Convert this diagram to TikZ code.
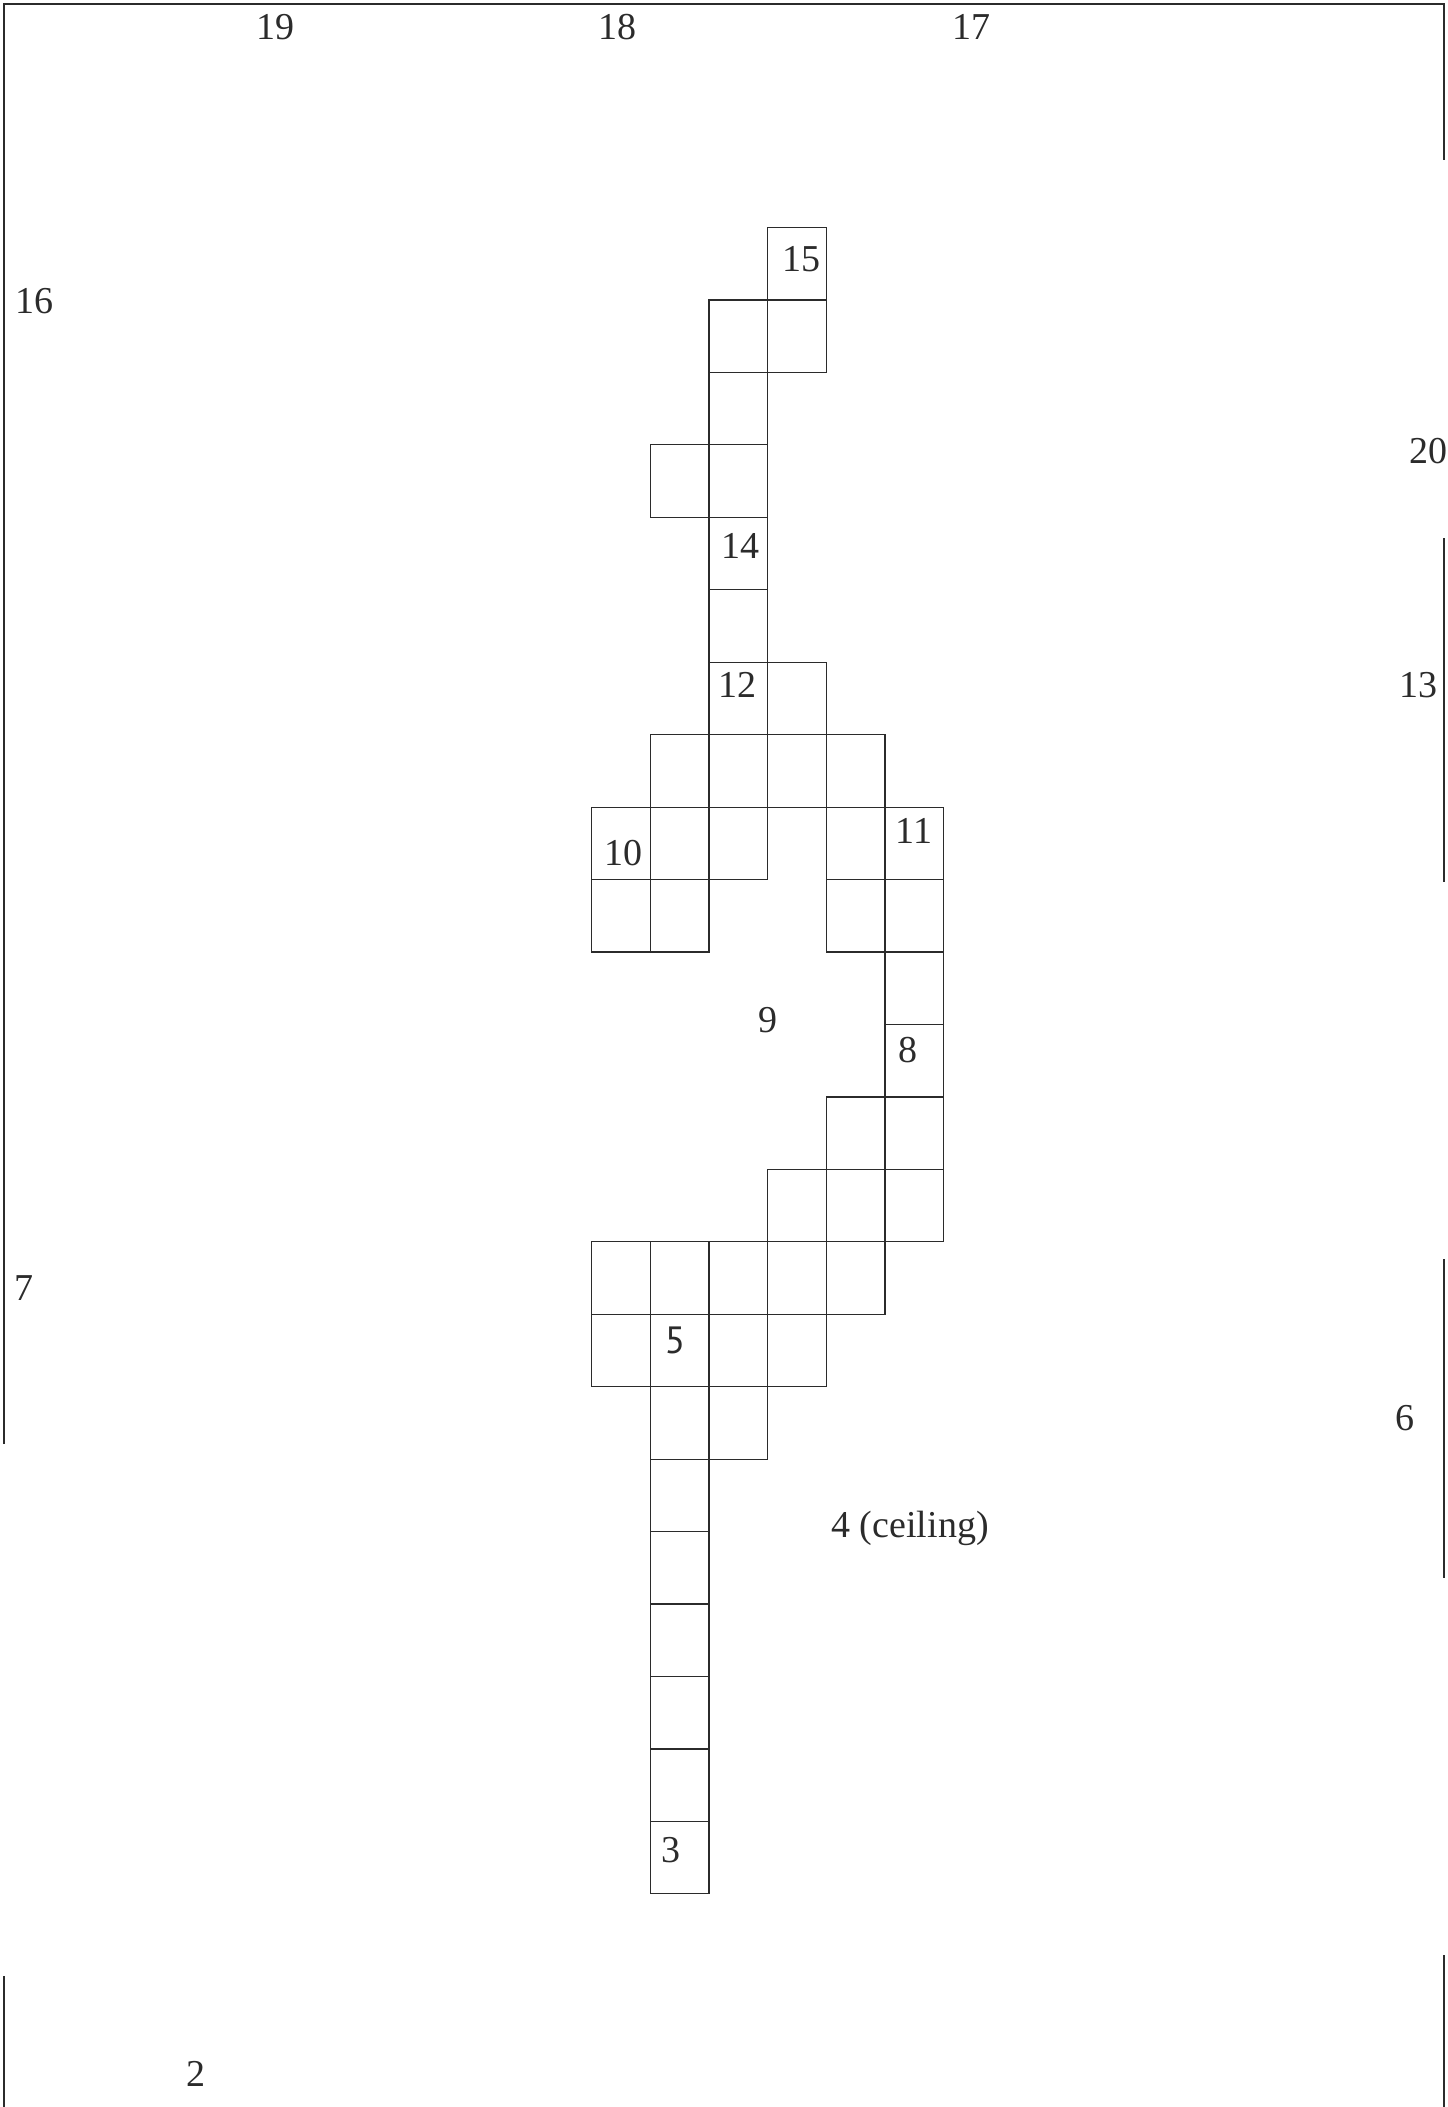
\documentclass[tikz,border=0pt]{standalone}
\usepackage{fontspec}
\setmainfont{Liberation Serif}
\newfontfamily\sansnum{PT Sans}
\definecolor{ink}{HTML}{2B2B2B}
\begin{document}
\begin{tikzpicture}[x=0.5pt,y=-0.5pt,
  cellbox/.style={draw=ink,line width=0.6pt,rectangle,inner sep=0pt,
    minimum width=29.33pt,minimum height=36.22pt},
  lbl/.style={inner sep=0pt,anchor=base,text=ink,font=\fontsize{19}{22}\selectfont},
  wall/.style={draw=ink,line width=1.1pt}]
\useasboundingbox (0,0) rectangle (1447,2107);
% grid cells (column, row)
\foreach \c/\r in {3/0, 2/1,3/1, 2/2, 1/3,2/3, 2/4, 2/5, 2/6,3/6,
  1/7,2/7,3/7,4/7, 0/8,1/8,2/8,4/8,5/8, 0/9,1/9,4/9,5/9, 5/10, 5/11,
  4/12,5/12, 3/13,4/13,5/13, 0/14,1/14,2/14,3/14,4/14,
  0/15,1/15,2/15,3/15, 1/16,2/16, 1/17,1/18,1/19,1/20,1/21,1/22}{
  \node[cellbox] (cell-\c-\r) at ({591.7+58.67*(\c+0.5)},{227.5+72.45*(\r+0.5)}) {};
}
% walls
\coordinate (wA) at (4,1444);
\coordinate (wB) at (4,4);
\coordinate (wC) at (1444,4);
\coordinate (wD) at (1444,160);
\draw[wall] (wA) -- (wB) -- (wC) -- (wD);
\coordinate (wE) at (1444,538);
\coordinate (wF) at (1444,882);
\draw[wall] (wE) -- (wF);
\coordinate (wG) at (1444,1259);
\coordinate (wH) at (1444,1578);
\draw[wall] (wG) -- (wH);
\coordinate (wI) at (1444,1955);
\coordinate (wJ) at (1444,2107);
\draw[wall] (wI) -- (wJ);
\coordinate (wK) at (4,1976);
\coordinate (wL) at (4,2107);
\draw[wall] (wK) -- (wL);
% labels
\node[lbl] (n19) at (275,40) {19};
\node[lbl] (n18) at (617,40) {18};
\node[lbl] (n17) at (971,40) {17};
\node[lbl] (n16) at (34,314) {16};
\node[lbl] (n20) at (1428,464) {20};
\node[lbl] (n13) at (1418,697) {13};
\node[lbl] (n7) at (24,1300) {7};
\node[lbl] (n6) at (1405,1430) {6};
\node[lbl,anchor=base west] (n4) at (831,1537) {4 (ceiling)};
\node[lbl] (n9) at (768,1032) {9};
\node[lbl] (n2) at (196,2086) {2};
\node[lbl] (n15) at (801,272) {15};
\node[lbl] (n14) at (740,558) {14};
\node[lbl] (n12) at (737,697) {12};
\node[lbl] (n10) at (623,865) {10};
\node[lbl] (n11) at (914,843) {11};
\node[lbl] (n8) at (908,1062) {8};
\node[lbl,font=\sansnum\fontsize{19}{22}\selectfont] (n5) at (675,1353) {5};
\node[lbl] (n3) at (671,1862) {3};
\end{tikzpicture}
\end{document}
